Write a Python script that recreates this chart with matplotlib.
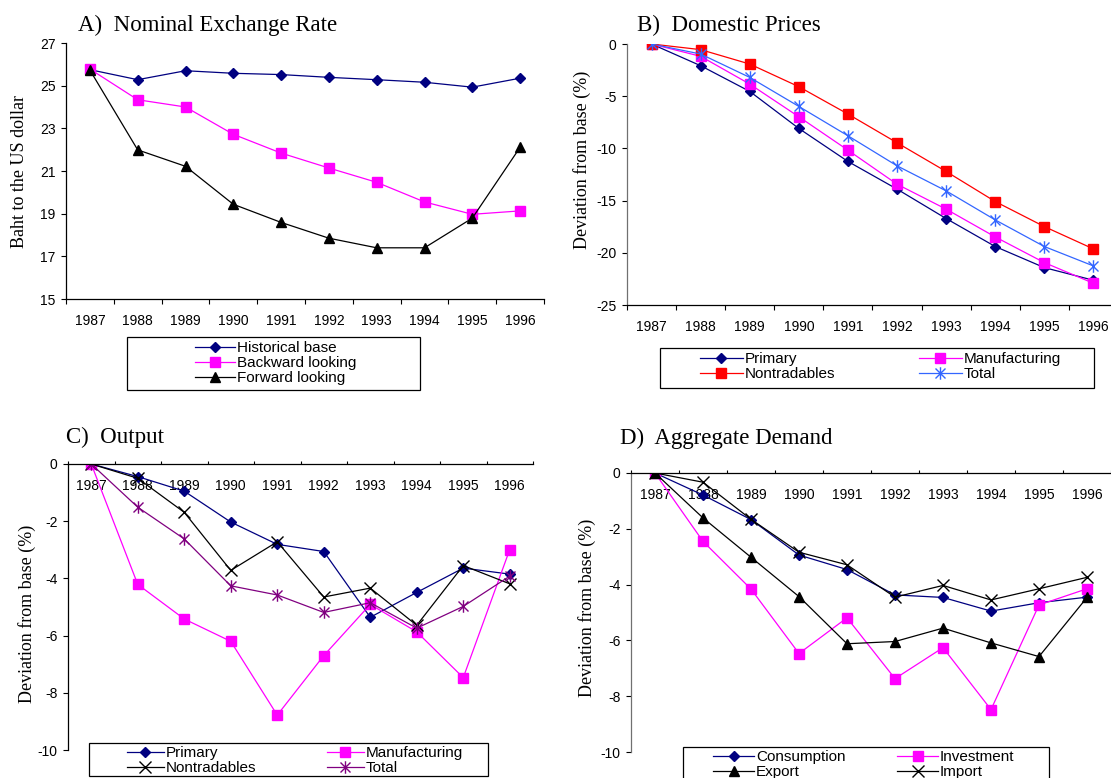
import numpy as np
import matplotlib.pyplot as plt
from matplotlib.path import Path
from matplotlib.patches import Rectangle

plt.rcParams["axes.unicode_minus"] = False

# Data
years = ["1987", "1988", "1989", "1990", "1991", "1992", "1993", "1994", "1995", "1996"]

# A) Nominal exchange rate (baht per US dollar)
fx_historical = [25.75, 25.28, 25.70, 25.58, 25.52, 25.39, 25.28, 25.16, 24.93, 25.35]
fx_backward = [25.78, 24.34, 24.00, 22.72, 21.84, 21.14, 20.47, 19.55, 18.97, 19.13]
fx_forward = [25.73, 21.99, 21.22, 19.44, 18.59, 17.85, 17.40, 17.40, 18.79, 22.11]

# B) Domestic prices, deviation from base (%)
price_primary = [0, -2.08, -4.54, -8.09, -11.25, -13.90, -16.72, -19.40, -21.42, -22.63]
price_manuf = [0, -1.18, -3.84, -6.97, -10.17, -13.43, -15.82, -18.48, -20.94, -22.92]
price_nontrad = [0, -0.54, -1.92, -4.09, -6.71, -9.46, -12.21, -15.09, -17.49, -19.63]
price_total = [0, -0.96, -3.20, -5.98, -8.79, -11.67, -14.07, -16.85, -19.40, -21.26]

# C) Output, deviation from base (%)
out_primary = [0, -0.44, -0.95, -2.03, -2.81, -3.06, -5.36, -4.49, -3.64, -3.85]
out_manuf = [0, -4.21, -5.42, -6.20, -8.78, -6.70, -4.91, -5.87, -7.47, -2.99]
out_nontrad = [0, -0.50, -1.69, -3.72, -2.72, -4.65, -4.34, -5.64, -3.55, -4.19]
out_total = [0, -1.51, -2.62, -4.26, -4.58, -5.19, -4.85, -5.74, -4.98, -3.92]

# D) Aggregate demand, deviation from base (%)
dem_consumption = [0, -0.79, -1.67, -2.94, -3.46, -4.37, -4.46, -4.95, -4.65, -4.45]
dem_investment = [0, -2.45, -4.16, -6.47, -5.19, -7.37, -6.26, -8.48, -4.73, -4.15]
dem_export = [0, -1.61, -3.02, -4.43, -6.12, -6.04, -5.56, -6.09, -6.58, -4.46]
dem_import = [0, -0.33, -1.66, -2.84, -3.29, -4.45, -4.03, -4.55, -4.15, -3.74]

W, H = 1111, 778
SERIF = "Liberation Serif"
SANS = "Liberation Sans"
NAVY, MAGENTA, RED, BLUE, PURPLE = "#000080", "#FF00FF", "#FF0000", "#3366FF", "#800080"

# Excel-style asterisk marker
ASTERISK = Path([(-1, -1), (1, 1), (-1, 1), (1, -1), (0, -1.25), (0, 1.25)],
                [Path.MOVETO, Path.LINETO] * 3)

fig = plt.figure(figsize=(W / 100, H / 100), dpi=100)
x = np.arange(len(years))


def axes_px(x0, y0, x1, y1):
    return fig.add_axes([x0 / W, 1 - y1 / H, (x1 - x0) / W, (y1 - y0) / H])


def setup_axes(ax, ylim, yticks, top_axis=False, spine_color="black"):
    ax.set_xlim(-0.5, 9.5)
    ax.set_ylim(*ylim)
    ax.set_yticks(yticks)
    ax.set_xticks(np.arange(-0.5, 10, 1))
    ax.set_xticklabels([])
    ax.set_xticks(x, years, minor=True)
    ax.spines["top"].set_visible(False)
    ax.spines["right"].set_visible(False)
    ax.spines["left"].set_color(spine_color)
    for s in ("left", "bottom"):
        ax.spines[s].set_linewidth(0.9)
    ax.tick_params(axis="y", direction="out", length=3.6, width=0.8, pad=4,
                   labelsize=10, colors="black")
    ax.tick_params(axis="x", which="minor", length=0, pad=11, labelsize=10)
    if top_axis:
        ax.spines["bottom"].set_position(("data", 0))
        ax.tick_params(axis="x", which="major", direction="in", length=2.5, width=0.8)
    else:
        ax.tick_params(axis="x", which="major", direction="out", length=3.6, width=0.8)
    for lab in ax.get_xticklabels(minor=True) + ax.get_yticklabels():
        lab.set_fontfamily(SANS)
    ax.patch.set_visible(False)


def frame_px(x0, y0, x1, y1):
    fig.add_artist(Rectangle((x0 / W, 1 - y1 / H), (x1 - x0) / W, (y1 - y0) / H,
                             transform=fig.transFigure, fill=False,
                             edgecolor="black", linewidth=0.9))


def legend_px(handles, x_px, y_px, hlen):
    fig.legend(handles=handles, loc="upper left",
               bbox_to_anchor=(x_px / W, 1 - y_px / H), frameon=False,
               borderpad=0, borderaxespad=0, labelspacing=0.08,
               handlelength=hlen, handletextpad=0.12,
               prop={"family": SANS, "size": 11})


def title_px(text, x_px, y_px):
    fig.text(x_px / W, 1 - y_px / H, text, family=SERIF, fontsize=16.5,
             ha="left", va="baseline")


def ylabel_px(text, x_px, y_px):
    fig.text(x_px / W, 1 - y_px / H, text, family=SERIF, fontsize=13,
             rotation=90, ha="center", va="center")


lw = 0.9

# A) Nominal Exchange Rate
axA = axes_px(66, 43, 544, 299)
a1, = axA.plot(x, fx_historical, color=NAVY, lw=lw, marker="D", ms=5.5, label="Historical base")
a2, = axA.plot(x, fx_backward, color=MAGENTA, lw=lw, marker="s", ms=7, label="Backward looking")
a3, = axA.plot(x, fx_forward, color="black", lw=lw, marker="^", ms=7.5, label="Forward looking")
setup_axes(axA, (15, 27), [15, 17, 19, 21, 23, 25, 27])
title_px("A)  Nominal Exchange Rate", 78, 31)
ylabel_px("Baht to the US dollar", 20, 171)
frame_px(127, 337, 420, 390)
legend_px([a1, a2, a3], 195, 341, 2.6)

# B) Domestic Prices
axB = axes_px(627, 44, 1118, 305)
b1, = axB.plot(x, price_primary, color=NAVY, lw=lw, marker="D", ms=5.5, label="Primary")
b2, = axB.plot(x, price_manuf, color=MAGENTA, lw=lw, marker="s", ms=7, label="Manufacturing")
b3, = axB.plot(x, price_nontrad, color=RED, lw=lw, marker="s", ms=7, label="Nontradables")
b4, = axB.plot(x, price_total, color=BLUE, lw=lw, marker=ASTERISK, ms=9, mew=1,
               mfc="none", label="Total")
setup_axes(axB, (-25, 0), [-25, -20, -15, -10, -5, 0], spine_color="#707070")
title_px("B)  Domestic Prices", 637, 31)
ylabel_px("Deviation from base (%)", 582, 160)
frame_px(660, 348, 1094, 388)
legend_px([b1, b3], 700, 352, 2.8)
legend_px([b2, b4], 919, 352, 2.8)

# C) Output
axC = axes_px(68, 464, 533, 750)
c1, = axC.plot(x, out_primary, color=NAVY, lw=lw, marker="D", ms=5.5, label="Primary")
c2, = axC.plot(x, out_manuf, color=MAGENTA, lw=lw, marker="s", ms=7, label="Manufacturing")
c3, = axC.plot(x, out_nontrad, color="black", lw=lw, marker="x", ms=8, mew=1, label="Nontradables")
c4, = axC.plot(x, out_total, color=PURPLE, lw=lw, marker=ASTERISK, ms=9, mew=1,
               mfc="none", label="Total")
setup_axes(axC, (-10, 0), [-10, -8, -6, -4, -2, 0], top_axis=True)
title_px("C)  Output", 66, 443)
ylabel_px("Deviation from base (%)", 27, 614)
frame_px(89, 743, 488, 776)
legend_px([c1, c3], 127, 746, 2.4)
legend_px([c2, c4], 327, 746, 2.4)

# D) Aggregate Demand
axD = axes_px(631, 473, 1111, 752)
d1, = axD.plot(x, dem_consumption, color=NAVY, lw=lw, marker="D", ms=5.5, label="Consumption")
d2, = axD.plot(x, dem_investment, color=MAGENTA, lw=lw, marker="s", ms=7, label="Investment")
d3, = axD.plot(x, dem_export, color="black", lw=lw, marker="^", ms=7.5, label="Export")
d4, = axD.plot(x, dem_import, color="black", lw=lw, marker="x", ms=8, mew=1, label="Import")
setup_axes(axD, (-10, 0), [-10, -8, -6, -4, -2, 0], top_axis=True, spine_color="#707070")
title_px("D)  Aggregate Demand", 620, 444)
ylabel_px("Deviation from base (%)", 587, 608)
frame_px(683, 747, 1049, 795)
legend_px([d1, d3], 713, 750, 2.7)
legend_px([d2, d4], 897, 750, 2.7)

fig.savefig("out.png", dpi=100)
